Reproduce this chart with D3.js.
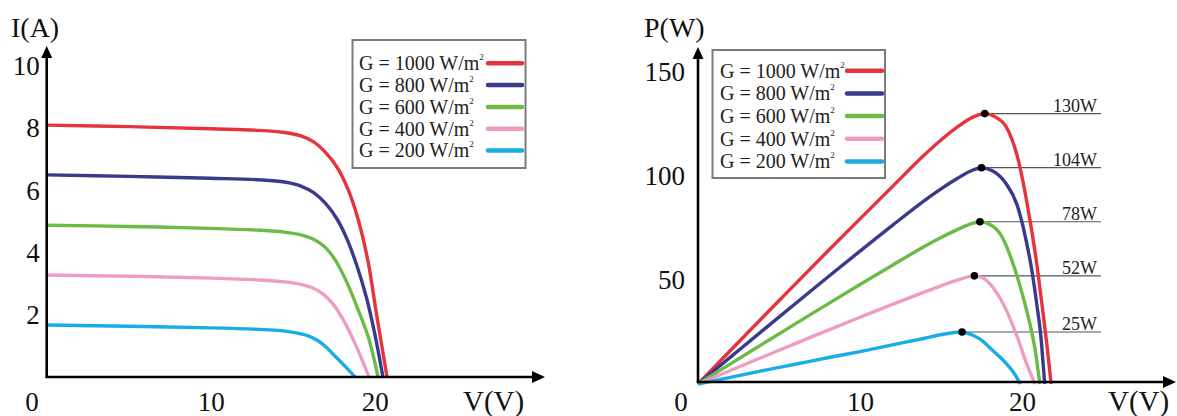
<!DOCTYPE html>
<html>
<head>
<meta charset="utf-8">
<script src="https://cdn.jsdelivr.net/npm/d3@7"></script>
<style>
  html, body { margin: 0; padding: 0; background: #fff; }
  svg, svg text { font-family: "Liberation Serif", "Times New Roman", "DejaVu Serif", serif; }
  svg { display: block; }
</style>
</head>
<body>
<svg id="chart" width="1177" height="416" font-family="Liberation Serif, Times New Roman, DejaVu Serif, serif"></svg>
<script>
// Irradiance levels and their colours
const irradiance = [1000, 800, 600, 400, 200];
const seriesColors = ["#e5343b", "#3a3a8c", "#6cbb46", "#ee9cc4", "#18ade6"];

// I–V characteristics: [voltage V, current A]
const iv1000 = [[0, 8.1], [5, 8.05], [10, 7.98], [13, 7.93], [14.5, 7.86], [15.5, 7.75], [16.3, 7.55], [17, 7.22], [17.7, 6.75], [18.4, 6.0], [19, 5.05], [19.6, 3.7], [20.1, 2.05], [20.45, 0.95], [20.75, 0]];
const iv800  = [[0, 6.5], [5, 6.45], [10, 6.39], [13, 6.34], [14.5, 6.27], [15.5, 6.14], [16.3, 5.92], [17, 5.58], [17.7, 5.08], [18.3, 4.45], [18.9, 3.6], [19.5, 2.55], [20.0, 1.4], [20.5, 0]];
const iv600  = [[0, 4.88], [5, 4.84], [10, 4.78], [13, 4.72], [14.5, 4.66], [15.5, 4.57], [16.3, 4.42], [17, 4.16], [17.6, 3.76], [18.3, 3.05], [18.9, 2.28], [19.6, 1.3], [20.2, 0]];
const iv400  = [[0, 3.28], [5, 3.24], [10, 3.18], [13, 3.12], [14.5, 3.06], [15.5, 2.98], [16.2, 2.87], [16.9, 2.65], [17.5, 2.32], [18.1, 1.82], [18.8, 1.08], [19.65, 0]];
const iv200  = [[0, 1.67], [5, 1.63], [10, 1.58], [13, 1.53], [14.3, 1.49], [15.2, 1.42], [15.9, 1.33], [16.5, 1.18], [17.0, 0.98], [17.6, 0.66], [18.2, 0.34], [18.8, 0]];

// P–V characteristics: [voltage V, power W]
const pv1000 = [[0, 0], [2, 16.1], [4, 32.1], [6, 48], [8, 63.8], [10, 79.4], [12, 94.9], [14, 110.3], [15, 117.3], [16, 123.5], [17, 128.4], [17.7, 130], [18.4, 128.2], [19, 124], [19.76, 108], [20.4, 83], [20.9, 58.4], [21.3, 34], [21.55, 18], [21.8, 0]];
const pv800  = [[0, 0], [2, 12.9], [4, 25.8], [6, 38.6], [8, 51.3], [10, 63.9], [12, 76.3], [14, 88.3], [15, 93.8], [16, 98.8], [16.8, 102.3], [17.5, 104], [18.2, 102.4], [19.0, 96.5], [19.7, 86], [20.2, 71], [20.6, 55], [20.9, 39], [21.15, 24], [21.4, 0]];
const pv600  = [[0, 0], [2, 9.7], [4, 19.3], [6, 28.9], [8, 38.4], [10, 47.8], [12, 57.1], [14, 66.2], [15, 70.4], [16, 74.2], [16.8, 76.9], [17.4, 78], [18.1, 76.3], [18.75, 71], [19.46, 57.5], [20.08, 41.5], [20.5, 28.5], [20.8, 17], [21.1, 0]];
const pv400  = [[0, 0], [2, 6.5], [4, 13], [6, 19.4], [8, 25.8], [10, 32.1], [12, 38.3], [14, 44.3], [15, 47.2], [16, 49.9], [17.06, 52], [17.6, 51], [18.2, 46.5], [19.0, 36], [19.7, 22.8], [20.3, 9.5], [20.8, 0]];
const pv200  = [[0, 0], [2, 3.2], [4, 6.4], [6, 9.5], [8, 12.6], [10, 15.6], [12, 18.8], [14, 22], [15, 23.7], [16.3, 25], [17.0, 23.3], [17.6, 20.5], [18.0, 17.5], [18.85, 11.3], [19.46, 5.8], [19.9, 0]];

const ivSeries = [iv1000, iv800, iv600, iv400, iv200];
const pvSeries = [pv1000, pv800, pv600, pv400, pv200];

// Maximum power points
const peakVoltage = [17.7, 17.5, 17.4, 17.06, 16.3];
const peakPower = [130, 104, 78, 52, 25];
const peakLabels = ["130W", "104W", "78W", "52W", "25W"];

// Tick values
const ivTicksY = [2, 4, 6, 8, 10];
const ivTicksX = [10, 20];
const pvTicksY = [50, 100, 150];
const pvTicksX = [10, 20];

const FONT = "Liberation Serif, Times New Roman, DejaVu Serif, serif";
const svg = d3.select("#chart");

// ---------- scales ----------
const xI = d3.scaleLinear().domain([0, 30]).range([46.7, 538.7]);
const yI = d3.scaleLinear().domain([0, 10]).range([377, 66]);
const xP = d3.scaleLinear().domain([0, 30]).range([698, 1184]);
const yP = d3.scaleLinear().domain([0, 150]).range([384, 72]);

// ---------- helpers ----------
function arrowAxes(g, x0, y0, yTop, xRight) {
  g.append("line").attr("x1", x0).attr("y1", y0).attr("x2", x0).attr("y2", yTop + 8)
    .attr("stroke", "#000").attr("stroke-width", 2.6);
  g.append("line").attr("x1", x0 - 1.3).attr("y1", y0).attr("x2", xRight - 10).attr("y2", y0)
    .attr("stroke", "#000").attr("stroke-width", 2.6);
  g.append("path").attr("d", `M${x0},${yTop} L${x0 - 5.5},${yTop + 12} L${x0 + 5.5},${yTop + 12} Z`).attr("fill", "#000");
  g.append("path").attr("d", `M${xRight},${y0} L${xRight - 13},${y0 - 6} L${xRight - 13},${y0 + 6} Z`).attr("fill", "#000");
}

function styleAxis(g) {
  g.select(".domain").remove();
  g.attr("font-family", FONT).attr("font-size", 27);
  g.selectAll("text").attr("font-family", FONT).attr("font-size", 27).attr("fill", "#111");
}

function label(g, x, y, txt, size, anchor) {
  return g.append("text").attr("x", x).attr("y", y).attr("font-family", FONT)
    .attr("font-size", size).attr("text-anchor", anchor || "start").attr("fill", "#111").text(txt);
}

function legend(g, x, y, w, h, textX, rowY0, rowStep, swX0, swX1) {
  g.append("rect").attr("x", x).attr("y", y).attr("width", w).attr("height", h)
    .attr("fill", "#fff").attr("stroke", "#7a7a7a").attr("stroke-width", 2);
  irradiance.forEach((gv, i) => {
    const cy = rowY0 + i * rowStep;
    const t = g.append("text").attr("x", textX).attr("y", cy + 6.8)
      .attr("font-family", FONT).attr("font-size", 20).attr("fill", "#222");
    t.append("tspan").text(`G = ${gv} W/m`);
    t.append("tspan").attr("font-size", 9).attr("dy", -10).text("2");
    g.append("line").attr("x1", swX0).attr("x2", swX1).attr("y1", cy).attr("y2", cy)
      .attr("stroke", seriesColors[i]).attr("stroke-width", 4.5).attr("stroke-linecap", "round");
  });
}

// ---------- I–V chart ----------
const gI = svg.append("g");

const lineI = d3.line().x(d => xI(d[0])).y(d => yI(d[1])).curve(d3.curveCatmullRom.alpha(0.5));
gI.selectAll("path.iv").data(ivSeries).join("path")
  .attr("class", "iv")
  .attr("d", lineI)
  .attr("fill", "none")
  .attr("stroke", (d, i) => seriesColors[i])
  .attr("stroke-width", 3.4)
  .attr("stroke-linejoin", "round");

arrowAxes(gI, xI(0), yI(0), 46, 545);

gI.append("g").attr("transform", `translate(${xI(0)},0)`)
  .call(d3.axisLeft(yI).tickValues(ivTicksY).tickSize(0).tickPadding(7).tickFormat(d3.format("d")))
  .call(styleAxis);

gI.append("g").attr("transform", `translate(0,${yI(0)})`)
  .call(d3.axisBottom(xI).tickValues(ivTicksX).tickSize(0).tickPadding(15).tickFormat(d3.format("d")))
  .call(styleAxis);

label(gI, 32, 411, "0", 27, "middle");
label(gI, 11, 37, "I(A)", 28);
label(gI, 463, 411, "V(V)", 29);

legend(gI, 352.5, 40, 173, 128, 359, 63.3, 21.8, 488, 522);

// ---------- P–V chart ----------
const gP = svg.append("g");

const lineP = d3.line().x(d => xP(d[0])).y(d => yP(d[1])).curve(d3.curveMonotoneX);

// leader lines from each maximum power point
gP.selectAll("line.lead").data(peakPower).join("line")
  .attr("class", "lead")
  .attr("x1", (d, i) => xP(peakVoltage[i]))
  .attr("x2", 1101)
  .attr("y1", d => yP(d)).attr("y2", d => yP(d))
  .attr("stroke", "#555").attr("stroke-width", 1.2);

gP.selectAll("path.pv").data(pvSeries).join("path")
  .attr("class", "pv")
  .attr("d", lineP)
  .attr("fill", "none")
  .attr("stroke", (d, i) => seriesColors[i])
  .attr("stroke-width", 3.4)
  .attr("stroke-linejoin", "round");

gP.selectAll("circle.mpp").data(peakPower).join("circle")
  .attr("class", "mpp")
  .attr("cx", (d, i) => xP(peakVoltage[i]))
  .attr("cy", d => yP(d))
  .attr("r", 3.8)
  .attr("fill", "#000");

gP.selectAll("text.mpp").data(peakPower).join("text")
  .attr("class", "mpp")
  .attr("x", 1097)
  .attr("y", d => yP(d) - 2)
  .attr("text-anchor", "end")
  .attr("font-family", FONT)
  .attr("font-size", 18)
  .attr("fill", "#222")
  .text((d, i) => peakLabels[i]);

arrowAxes(gP, xP(0), 382, 47, 1176);

gP.append("g").attr("transform", `translate(${xP(0)},0)`)
  .call(d3.axisLeft(yP).tickValues(pvTicksY).tickSize(0).tickPadding(13).tickFormat(d3.format("d")))
  .call(styleAxis);

gP.append("g").attr("transform", `translate(0,382)`)
  .call(d3.axisBottom(xP).tickValues(pvTicksX).tickSize(0).tickPadding(10).tickFormat(d3.format("d")))
  .call(styleAxis);

label(gP, 681, 411, "0", 27, "middle");
label(gP, 644, 37, "P(W)", 28);
label(gP, 1108, 411, "V(V)", 29);

legend(gP, 712.5, 50, 172.5, 128, 720, 70.7, 22.7, 847, 882);
</script>
</body>
</html>
